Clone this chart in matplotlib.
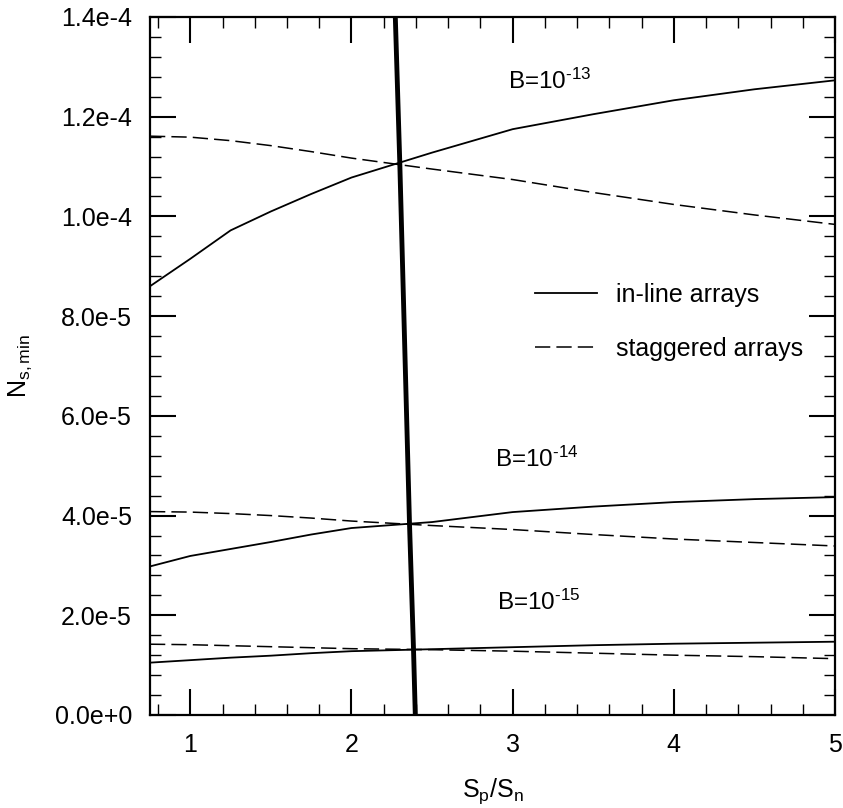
import matplotlib
matplotlib.use("Agg")
import matplotlib.pyplot as plt
from matplotlib.ticker import MultipleLocator, FixedLocator

plt.rcParams['font.family'] = ['Liberation Sans', 'DejaVu Sans']
plt.rcParams['mathtext.fontset'] = 'custom'
plt.rcParams['mathtext.rm'] = 'Liberation Sans'
plt.rcParams['mathtext.it'] = 'Liberation Sans:italic'
plt.rcParams['mathtext.default'] = 'regular'

# S_p/S_n sample points
sp_sn = [0.75, 1.0, 1.25, 1.5, 1.75, 2.0, 2.5, 3.0, 3.5, 4.0, 4.5, 5.0]

# N_s,min (units of 1e-5)
inline_b13 = [8.6, 9.15, 9.72, 10.1, 10.45, 10.78, 11.28, 11.75, 12.05, 12.33, 12.55, 12.73]
stag_b13 = [11.61, 11.59, 11.52, 11.42, 11.30, 11.17, 10.95, 10.74, 10.48, 10.24, 10.03, 9.84]
inline_b14 = [2.98, 3.19, 3.33, 3.47, 3.62, 3.75, 3.87, 4.07, 4.18, 4.27, 4.33, 4.37]
stag_b14 = [4.08, 4.07, 4.04, 4.00, 3.95, 3.89, 3.80, 3.72, 3.62, 3.53, 3.46, 3.39]
inline_b15 = [1.05, 1.10, 1.15, 1.19, 1.24, 1.28, 1.32, 1.36, 1.40, 1.43, 1.45, 1.47]
stag_b15 = [1.42, 1.41, 1.39, 1.37, 1.35, 1.33, 1.31, 1.28, 1.24, 1.20, 1.17, 1.13]

# crossover locus through the intersections
cross_x = [2.272, 2.30, 2.36, 2.385, 2.396]
cross_y = [14.0, 11.05, 3.84, 1.31, 0.0]

# B labels: text, x, y (1e-5)
b_labels = [(r"B=10$^{\text{-13}}$", 2.97, 12.55),
            (r"B=10$^{\text{-14}}$", 2.89, 4.98),
            (r"B=10$^{\text{-15}}$", 2.90, 2.11)]

ytick_vals = [0, 2, 4, 6, 8, 10, 12, 14]
ytick_labels = ["0.0e+0", "2.0e-5", "4.0e-5", "6.0e-5", "8.0e-5",
                "1.0e-4", "1.2e-4", "1.4e-4"]
xtick_vals = [1, 2, 3, 4, 5]


def scale(vals):
    return [v * 1e-5 for v in vals]


def main():
    fig = plt.figure(figsize=(8.43, 8.08), dpi=100)
    ax = fig.add_axes([150 / 843, 93 / 808, 685 / 843, 698 / 808])

    solid = dict(color='black', lw=1.3, ls='-')
    dashed = dict(color='black', lw=1.1, ls=(0, (10, 4)))

    ax.plot(sp_sn, scale(inline_b13), label='in-line arrays', **solid)
    ax.plot(sp_sn, scale(stag_b13), label='staggered arrays', **dashed)
    ax.plot(sp_sn, scale(inline_b14), **solid)
    ax.plot(sp_sn, scale(stag_b14), **dashed)
    ax.plot(sp_sn, scale(inline_b15), **solid)
    ax.plot(sp_sn, scale(stag_b15), **dashed)
    ax.plot(cross_x, scale(cross_y), color='black', lw=3.5, solid_capstyle='butt')

    for txt, x, y in b_labels:
        ax.text(x, y * 1e-5, txt, fontsize=17.5, ha='left', va='baseline')

    ax.set_xlim(0.75, 5)
    ax.set_ylim(0, 1.4e-4)
    ax.xaxis.set_major_locator(FixedLocator(xtick_vals))
    ax.xaxis.set_minor_locator(MultipleLocator(0.2))
    ax.set_yticks(scale(ytick_vals))
    ax.set_yticklabels(ytick_labels)
    ax.yaxis.set_minor_locator(MultipleLocator(4e-6))

    ax.tick_params(which='both', direction='in', top=True, right=True)
    ax.tick_params(which='major', length=19, width=1.5, labelsize=18, pad=13)
    ax.tick_params(which='minor', length=8, width=1.0)
    for sp in ax.spines.values():
        sp.set_linewidth(1.6)

    ax.set_xlabel("S$_p$/S$_n$", fontsize=18, va='center')
    ax.xaxis.set_label_coords(0.5, -0.109)
    ax.set_ylabel("N$_{s,min}$", fontsize=18, va='center')
    ax.yaxis.set_label_coords(-0.19, 0.5)

    ax.legend(loc='upper left', bbox_to_anchor=(0.562, 0.619), frameon=False,
              fontsize=18, handlelength=2.5, handletextpad=0.75,
              labelspacing=1.2, borderpad=0, borderaxespad=0)

    fig.savefig("out.png", dpi=100)


if __name__ == "__main__":
    main()
